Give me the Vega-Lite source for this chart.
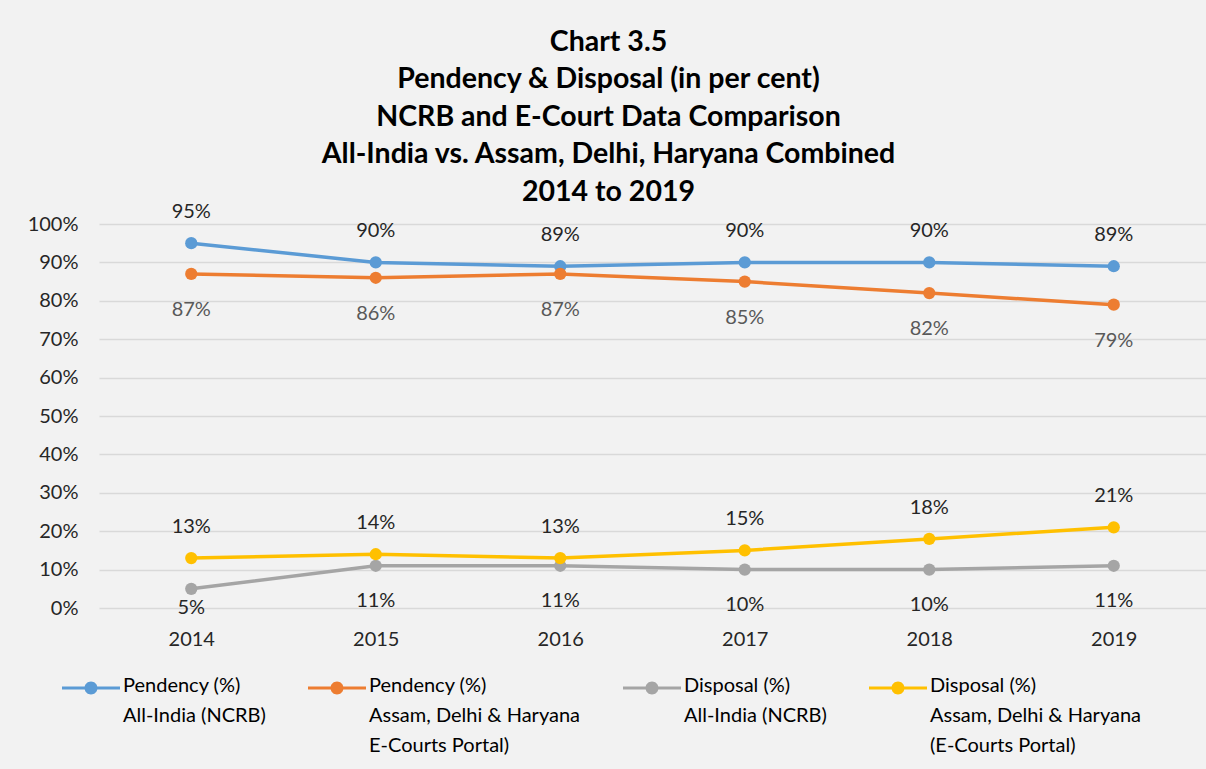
{
  "$schema": "https://vega.github.io/schema/vega-lite/v6.json",
  "autosize": "none",
  "width": 1107,
  "height": 384,
  "padding": {"left": 99, "top": 224, "right": 0, "bottom": 161},
  "background": "#f2f2f2",
  "title": {
    "text": ["Chart 3.5", "Pendency & Disposal (in per cent)", "NCRB and E-Court Data Comparison", "All-India vs. Assam, Delhi, Haryana Combined", "2014 to 2019"],
    "anchor": "middle",
    "frame": "group",
    "dx": -44,
    "offset": -4,
    "font": "Lato",
    "fontSize": 28.5,
    "fontWeight": "bold",
    "lineHeight": 37.5,
    "color": "#000000"
  },
  "config": {
    "view": {"stroke": null},
    "font": "Lato"
  },
  "data": {
    "values": [
      {"year": "2014", "series": "Pendency (%)|All-India (NCRB)", "value": 0.95},
      {"year": "2015", "series": "Pendency (%)|All-India (NCRB)", "value": 0.90},
      {"year": "2016", "series": "Pendency (%)|All-India (NCRB)", "value": 0.89},
      {"year": "2017", "series": "Pendency (%)|All-India (NCRB)", "value": 0.90},
      {"year": "2018", "series": "Pendency (%)|All-India (NCRB)", "value": 0.90},
      {"year": "2019", "series": "Pendency (%)|All-India (NCRB)", "value": 0.89},
      {"year": "2014", "series": "Pendency (%)|Assam, Delhi & Haryana|E-Courts Portal)", "value": 0.87},
      {"year": "2015", "series": "Pendency (%)|Assam, Delhi & Haryana|E-Courts Portal)", "value": 0.86},
      {"year": "2016", "series": "Pendency (%)|Assam, Delhi & Haryana|E-Courts Portal)", "value": 0.87},
      {"year": "2017", "series": "Pendency (%)|Assam, Delhi & Haryana|E-Courts Portal)", "value": 0.85},
      {"year": "2018", "series": "Pendency (%)|Assam, Delhi & Haryana|E-Courts Portal)", "value": 0.82},
      {"year": "2019", "series": "Pendency (%)|Assam, Delhi & Haryana|E-Courts Portal)", "value": 0.79},
      {"year": "2014", "series": "Disposal (%)|All-India (NCRB)", "value": 0.05},
      {"year": "2015", "series": "Disposal (%)|All-India (NCRB)", "value": 0.11},
      {"year": "2016", "series": "Disposal (%)|All-India (NCRB)", "value": 0.11},
      {"year": "2017", "series": "Disposal (%)|All-India (NCRB)", "value": 0.10},
      {"year": "2018", "series": "Disposal (%)|All-India (NCRB)", "value": 0.10},
      {"year": "2019", "series": "Disposal (%)|All-India (NCRB)", "value": 0.11},
      {"year": "2014", "series": "Disposal (%)|Assam, Delhi & Haryana|(E-Courts Portal)", "value": 0.13},
      {"year": "2015", "series": "Disposal (%)|Assam, Delhi & Haryana|(E-Courts Portal)", "value": 0.14},
      {"year": "2016", "series": "Disposal (%)|Assam, Delhi & Haryana|(E-Courts Portal)", "value": 0.13},
      {"year": "2017", "series": "Disposal (%)|Assam, Delhi & Haryana|(E-Courts Portal)", "value": 0.15},
      {"year": "2018", "series": "Disposal (%)|Assam, Delhi & Haryana|(E-Courts Portal)", "value": 0.18},
      {"year": "2019", "series": "Disposal (%)|Assam, Delhi & Haryana|(E-Courts Portal)", "value": 0.21}
    ]
  },
  "encoding": {
    "x": {
      "field": "year", "type": "ordinal",
      "scale": {"type": "point", "padding": 0.5},
      "axis": {
        "title": null, "domain": false, "ticks": false, "grid": false,
        "labelAngle": 0, "labelFont": "Lato", "labelFontSize": 20, "labelColor": "#262626",
        "labelPadding": 21
      }
    },
    "y": {
      "field": "value", "type": "quantitative",
      "scale": {"domain": [0, 1], "nice": false},
      "axis": {
        "title": null, "domain": false, "ticks": false, "format": ".0%",
        "values": [0, 0.1, 0.2, 0.3, 0.4, 0.5, 0.6, 0.7, 0.8, 0.9, 1.0],
        "gridColor": "#d9d9d9", "gridWidth": 1.5,
        "labelFont": "Lato", "labelFontSize": 20, "labelColor": "#262626",
        "labelPadding": 21
      }
    },
    "color": {
      "field": "series", "type": "nominal",
      "sort": ["Pendency (%)|All-India (NCRB)", "Pendency (%)|Assam, Delhi & Haryana|E-Courts Portal)", "Disposal (%)|All-India (NCRB)", "Disposal (%)|Assam, Delhi & Haryana|(E-Courts Portal)"],
      "scale": {
        "domain": ["Pendency (%)|All-India (NCRB)", "Pendency (%)|Assam, Delhi & Haryana|E-Courts Portal)", "Disposal (%)|All-India (NCRB)", "Disposal (%)|Assam, Delhi & Haryana|(E-Courts Portal)"],
        "range": ["#5B9BD5", "#ED7D31", "#A5A5A5", "#FFC000"]
      },
      "legend": {
        "title": null,
        "orient": "none",
        "legendX": -37,
        "legendY": 435,
        "direction": "horizontal",
        "columns": 4,
        "columnPadding": 42,
        "padding": 0,
        "symbolType": "M -1 -0.052 H 1 V 0.052 H -1 Z M 0.224 0 A 0.224 0.224 0 1 1 -0.224 0 A 0.224 0.224 0 1 1 0.224 0 Z",
        "symbolSize": 3364,
        "symbolStrokeWidth": 0,
        "labelFont": "Lato",
        "labelFontSize": 20,
        "labelColor": "#000000",
        "labelLimit": 400,
        "labelOffset": 3,
        "labelBaseline": "top",
        "labelExpr": "split(datum.label + (indexof(datum.label, 'Haryana') < 0 ? '| ' : ''), '|')",
        "encode": {
          "symbols": {"update": {"fill": {"scale": "color", "field": "value"}, "strokeWidth": {"value": 0}, "opacity": {"value": 1}}},
          "labels": {"update": {"dy": {"value": -12}, "lineHeight": {"value": 30}}}
        }
      }
    }
  },
  "layer": [
    {"mark": {"type": "line", "strokeWidth": 3.5}},
    {"mark": {"type": "point", "filled": true, "size": 150, "opacity": 1}},
    {
      "transform": [{"filter": "indexof(['Pendency (%)|All-India (NCRB)', 'Disposal (%)|Assam, Delhi & Haryana|(E-Courts Portal)'], datum.series) >= 0"}],
      "mark": {"type": "text", "dy": -31, "font": "Lato", "fontSize": 20},
      "encoding": {"text": {"field": "value", "type": "quantitative", "format": ".0%"}, "color": {"value": "#262626"}}
    },
    {
      "transform": [{"filter": "datum.series == 'Pendency (%)|Assam, Delhi & Haryana|E-Courts Portal)'"}],
      "mark": {"type": "text", "dy": 36, "font": "Lato", "fontSize": 20},
      "encoding": {"text": {"field": "value", "type": "quantitative", "format": ".0%"}, "color": {"value": "#595959"}}
    },
    {
      "transform": [{"filter": "datum.series == 'Disposal (%)|All-India (NCRB)' && datum.year != '2014'"}],
      "mark": {"type": "text", "dy": 35, "font": "Lato", "fontSize": 20},
      "encoding": {"text": {"field": "value", "type": "quantitative", "format": ".0%"}, "color": {"value": "#262626"}}
    },
    {
      "transform": [{"filter": "datum.series == 'Disposal (%)|All-India (NCRB)' && datum.year == '2014'"}],
      "mark": {"type": "text", "dy": 19, "font": "Lato", "fontSize": 20},
      "encoding": {"text": {"field": "value", "type": "quantitative", "format": ".0%"}, "color": {"value": "#262626"}}
    }
  ]
}
